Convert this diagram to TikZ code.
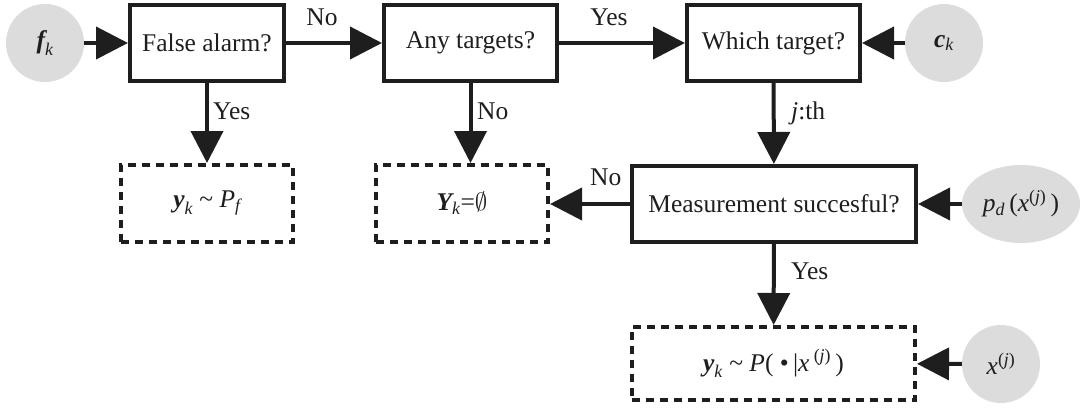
\documentclass[tikz,border=0pt]{standalone}
\usepackage{amsmath}
\usepackage{fontspec}
\setmainfont{Liberation Serif}
\newfontfamily\tnr{Liberation Serif}
\usetikzlibrary{arrows.meta,shapes.geometric}
\definecolor{ink}{HTML}{1E1E1E}
\definecolor{disc}{HTML}{DCDCDC}
\newcommand{\bvar}[1]{\text{\tnr\bfseries\itshape #1}}
\newcommand{\ivar}[1]{\text{\tnr\itshape #1}}
\tikzset{
  every node/.style={font=\tnr\fontsize{25.5}{30}\selectfont, text=ink},
  decision/.style={draw=ink, line width=4pt, rectangle, inner sep=0pt, minimum height=76pt},
  outcome/.style={draw=ink, line width=4pt, rectangle, inner sep=0pt, dash pattern=on 8pt off 6pt, minimum height=76pt},
  source/.style={fill=disc, circle, inner sep=0pt, minimum size=78pt},
  flow/.style={draw=ink, line width=4pt, -{Triangle[length=32pt,width=32pt]}},
  lbl/.style={inner sep=0pt}
}
\begin{document}
\begin{tikzpicture}[x=1pt,y=-1pt]
\path[use as bounding box] (0,0) rectangle (1083,409);
% top row
\node[source] (f) at (45,43) {$\bvar{f}_{\ivar{k}}$};
\node[decision, minimum width=154pt] (fa) at (207,43) {False alarm?};
\node[decision, minimum width=173pt] (at) at (470.5,43) {Any targets?};
\node[decision, minimum width=173pt] (wt) at (773.5,43) {Which target?};
\node[source] (c) at (944,43) {$\bvar{c}_{\ivar{k}}$};
% middle row
\node[outcome, minimum width=172pt, minimum height=77pt] (o1) at (207,203.5) {$\bvar{y}_{\ivar{k}}$ \textasciitilde{} \textit{P}$_{\ivar{f}}$};
\node[outcome, minimum width=172pt, minimum height=77pt] (o2) at (462,203.5) {$\bvar{Y}_{\ivar{k}}$=$\emptyset$};
\node[decision, minimum width=284pt] (ms) at (774,204) {Measurement succesful?};
\node[fill=disc, ellipse, inner sep=0pt, minimum width=118pt, minimum height=78pt] (pd) at (1021,204) {\textit{p}$_{\ivar{d}}$\,(\textit{x}$^{\text{\tnr(\textit{j})}}$\,)};
% bottom row
\node[outcome, minimum width=283pt, minimum height=73pt] (o3) at (773.5,363.5) {$\bvar{y}_{\ivar{k}}$ \textasciitilde{} \textit{P}(\ \textbullet\,|\textit{x}\,$^{\text{\tnr(\textit{j})}}$\,)};
\node[source] (x) at (1001,364) {\textit{x}$^{\text{\tnr(\textit{j})}}$};
% connectors
\draw[flow] (f) -- (fa);
\draw[flow] (fa) -- (at);
\draw[flow] (at) -- (wt);
\draw[flow] (c) -- (wt);
\draw[flow] (fa) -- (o1);
\draw[flow] (at.south) -- (at.south |- o2.north);
\draw[flow] (wt) -- (ms);
\draw[flow] (pd) -- (ms);
\draw[flow] (ms.west) -- (o2.east |- ms.west);
\draw[flow] (ms) -- (o3);
\draw[flow] (x) -- (o3);
% labels
\node[lbl, anchor=base] (l1) at (322,26) {No};
\node[lbl, anchor=base] (l2) at (609,26) {Yes};
\node[lbl, anchor=base west] (l3) at (213,119) {Yes};
\node[lbl, anchor=base west] (l4) at (477,119) {No};
\node[lbl, anchor=base west] (l5) at (791,119) {\textit{j}:th};
\node[lbl, anchor=base west] (l6) at (590,185) {No};
\node[lbl, anchor=base west] (l7) at (791,279) {Yes};
\end{tikzpicture}
\end{document}
